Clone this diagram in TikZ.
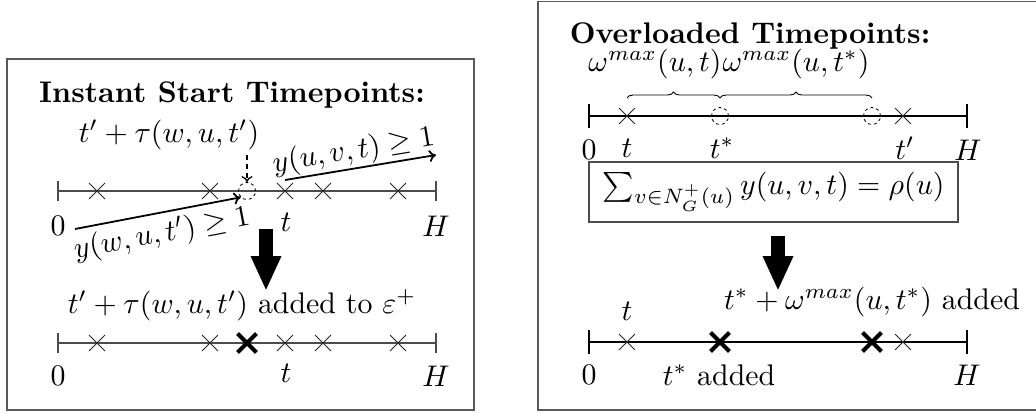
\documentclass[tikz,border=0pt]{standalone}
\usetikzlibrary{arrows.meta,shapes.misc,decorations.pathreplacing}
\begin{document}
\begin{tikzpicture}[x=0.335pt,y=-0.335pt,
  frame/.style={draw=black!65,line width=0.5pt},
  tlthin/.style={draw=black!70,line width=0.4pt},
  tlthick/.style={draw=black,line width=0.8pt},
  lbl/.style={inner sep=0pt,anchor=center},
  xmark/.style={cross out,draw=black!85,line width=0.33pt,minimum size=5pt,inner sep=0pt},
  xbold/.style={cross out,draw=black,line width=1.34pt,minimum size=5pt,inner sep=0pt},
  dcirc/.style={circle,draw=black,dash pattern=on 1pt off 1pt,line width=0.27pt,minimum size=5.7pt,inner sep=0pt},
  arr/.style={line width=0.6pt,-{To[length=2.35pt,width=4pt]}},
  fat/.style={line width=4.7pt,-{Triangle[length=11.7pt,width=9.4pt]}},
  brc/.style={decorate,decoration={brace,amplitude=2pt},line width=0.3pt}
]
\useasboundingbox (0,0) rectangle (1036,412);
% frames
\draw[frame] (7,59) rectangle (474,410);
\draw[frame] (538,1.5) rectangle (1040,410);

%%% LEFT PANEL
\node[lbl,font=\bfseries] (ltitle) at (232,95) {Instant Start Timepoints:};
% timeline 1
\coordinate (a0) at (58,191); \coordinate (aH) at (436,191);
\draw[tlthin] (a0) -- (aH);
\draw[tlthin] (58,181) -- (58,201);
\draw[tlthin] (436,181) -- (436,201);
\node[xmark] (a1) at (97,191) {};
\node[xmark] (a2) at (210,191) {};
\node[dcirc] (ac) at (247,191) {};
\node[xmark] (at) at (285,191) {};
\node[xmark] (a4) at (323,191) {};
\node[xmark] (a5) at (398,191) {};
\node[lbl] (l0) at (58,226) {$0$};
\node[lbl] (lt) at (286,222) {$t$};
\node[lbl] (lH) at (436,226) {$H$};
\node[lbl] (ltau) at (169,135) {$t'+\tau(w,u,t')$};
\coordinate (dtop) at (247,155);
\draw[line width=0.44pt,dash pattern=on 1.7pt off 1.36pt,-{To[length=2pt,width=3.7pt]}] (dtop) -- (ac.north);
\coordinate (uend) at (436,155);
\draw[arr] (285,180) -- node[sloped,lbl,anchor=south,yshift=0.4pt,xshift=-1.4pt] (lyuv) {$y(u,v,t)\geq 1$} (uend);
\coordinate (wst) at (75,229);
\draw[arr] (wst) -- node[sloped,lbl,anchor=north,yshift=-2pt] (lywu) {$y(w,u,t')\geq 1$} (ac.south west);
% fat arrow
\coordinate (fa1) at (266,229); \coordinate (fa2) at (266,291);
\draw[fat] (fa1) -- (fa2);
\node[lbl] (ladd) at (242,305) {$t'+\tau(w,u,t')$ added to $\varepsilon^+$};
% timeline 2
\coordinate (b0) at (58,343); \coordinate (bH) at (436,343);
\draw[tlthin] (b0) -- (bH);
\draw[tlthin] (58,333) -- (58,353);
\draw[tlthin] (436,333) -- (436,353);
\node[xmark] (b1) at (97,343) {};
\node[xmark] (b2) at (210,343) {};
\node[xbold] (bc) at (247,343) {};
\node[xmark] (bt) at (285,343) {};
\node[xmark] (b4) at (323,343) {};
\node[xmark] (b5) at (398,343) {};
\node[lbl] (m0) at (58,376) {$0$};
\node[lbl] (mt) at (286,373) {$t$};
\node[lbl] (mH) at (436,376) {$H$};

%%% RIGHT PANEL
\node[lbl,font=\bfseries] (rtitle) at (750,36) {Overloaded Timepoints:};
\coordinate (c0) at (589,116); \coordinate (cH) at (967,116);
\draw[tlthick] (c0) -- (cH);
\draw[tlthick] (589,104) -- (589,128);
\draw[tlthick] (967,104) -- (967,128);
\node[xmark] (c1) at (627,116) {};
\node[dcirc] (cs) at (720,116) {};
\node[dcirc] (cs2) at (872,116) {};
\node[xmark] (c3) at (903,116) {};
\coordinate (bA) at (627,98); \coordinate (bB) at (720,98); \coordinate (bC) at (872,98);
\draw[brc] (bA) -- (bB);
\draw[brc] (bB) -- (bC);
\node[lbl] (w1) at (655,64) {$\omega^{max}(u,t)$};
\node[lbl] (w2) at (796,64) {$\omega^{max}(u,t^*)$};
\node[lbl] (n0) at (589,150) {$0$};
\node[lbl] (nt) at (627,148) {$t$};
\node[lbl] (ns) at (722,148) {$t^*$};
\node[lbl] (np) at (905,148) {$t'$};
\node[lbl] (nH) at (968,150) {$H$};
\node[draw=black!70,line width=0.4pt,minimum width=123.6pt,minimum height=20.1pt,inner sep=0pt] (sum) at (773.5,192) {$\sum_{v\in N_G^+(u)} y(u,v,t) = \rho(u)$};
\coordinate (fb1) at (778,236); \coordinate (fb2) at (778,291);
\draw[fat] (fb1) -- (fb2);
\node[lbl] (radd) at (872,302) {$t^*+\omega^{max}(u,t^*)$ added};
\node[lbl] (rt) at (627,311) {$t$};
\coordinate (d0) at (589,342); \coordinate (dH) at (967,342);
\draw[tlthick] (d0) -- (dH);
\draw[tlthick] (589,330) -- (589,354);
\draw[tlthick] (967,330) -- (967,354);
\node[xmark] (d1) at (627,342) {};
\node[xbold] (d2) at (720,342) {};
\node[xbold] (d3) at (872,342) {};
\node[xmark] (d4) at (903,342) {};
\node[lbl] (o0) at (589,375) {$0$};
\node[lbl] (os) at (719,375) {$t^*$ added};
\node[lbl] (oH) at (967,375) {$H$};
\end{tikzpicture}
\end{document}
